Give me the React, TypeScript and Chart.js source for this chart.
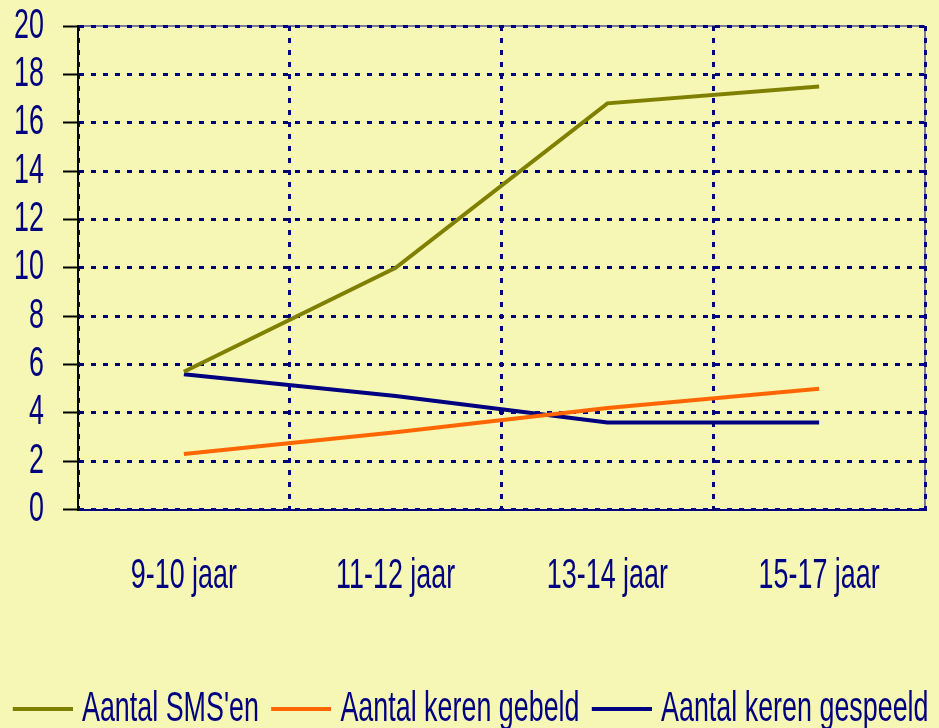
import React, { useEffect, useRef } from "react";
import { Chart, registerables } from "chart.js";

Chart.register(...registerables);

const categories = ["9-10 jaar", "11-12 jaar", "13-14 jaar", "15-17 jaar"];
const smsValues = [5.7, 10.0, 16.8, 17.5];
const gebeldValues = [2.3, 3.2, 4.2, 5.0];
const gespeeldValues = [5.6, 4.7, 3.6, 3.6];
const seriesNames = ["Aantal SMS'en", "Aantal keren gebeld", "Aantal keren gespeeld"];
const seriesColors = ["#808000", "#FF6600", "#000080"];

const BG = "#F6F7B4";
const NAVY = "#000080";
const FONT = "'Liberation Sans', Arial, sans-serif";
const FONT_SIZE = 42;
const CONDENSE = 0.64;

function legendLine(color: string) {
  const c = document.createElement("canvas");
  c.width = 74;
  c.height = 4;
  const g = c.getContext("2d")!;
  g.fillStyle = color;
  g.fillRect(14, 0, 60, 4);
  return c;
}

function condense(ctx: any) {
  if (ctx.__condensed) return;
  ctx.__condensed = true;
  const fill = ctx.fillText.bind(ctx);
  const measure = ctx.measureText.bind(ctx);
  ctx.fillText = (text: string, x: number, y: number) => {
    ctx.save();
    ctx.translate(x, y);
    ctx.scale(CONDENSE, 1);
    fill(text, 0, 0);
    ctx.restore();
  };
  ctx.measureText = (text: string) => {
    const m = measure(text);
    return {
      width: m.width * CONDENSE,
      actualBoundingBoxAscent: m.actualBoundingBoxAscent,
      actualBoundingBoxDescent: m.actualBoundingBoxDescent,
      actualBoundingBoxLeft: m.actualBoundingBoxLeft * CONDENSE,
      actualBoundingBoxRight: m.actualBoundingBoxRight * CONDENSE,
    };
  };
}

const frame = {
  id: "frame",
  afterDraw(chart: any) {
    const { ctx, chartArea } = chart;
    ctx.save();
    ctx.strokeStyle = NAVY;
    ctx.lineWidth = 1;
    ctx.beginPath();
    ctx.moveTo(chartArea.left, chartArea.top);
    ctx.lineTo(chartArea.right, chartArea.top);
    ctx.lineTo(chartArea.right, chartArea.bottom);
    ctx.stroke();
    ctx.restore();
  },
};

export default function App() {
  const ref = useRef<HTMLCanvasElement>(null);
  useEffect(() => {
    document.body.style.margin = "0";
    document.body.style.background = BG;
    const canvas = ref.current!;
    condense(canvas.getContext("2d"));
    const images = seriesColors.map(legendLine);
    const values = [smsValues, gebeldValues, gespeeldValues];
    const chart = new Chart(canvas, {
      type: "line",
      data: {
        labels: categories,
        datasets: values.map((v, i) => ({
          label: seriesNames[i],
          data: v,
          borderColor: seriesColors[i],
          backgroundColor: seriesColors[i],
          borderWidth: 4,
          pointRadius: 0,
          tension: 0,
        })),
      },
      options: {
        animation: false,
        responsive: true,
        maintainAspectRatio: false,
        layout: { padding: { top: 0, right: 0, left: 0, bottom: -12 } },
        plugins: {
          tooltip: { enabled: false },
          legend: {
            position: "bottom",
            labels: {
              color: NAVY,
              font: { family: FONT, size: FONT_SIZE },
              usePointStyle: true,
              pointStyleWidth: 50.5,
              padding: 10,
              generateLabels: (ch: any) =>
                Chart.defaults.plugins.legend.labels.generateLabels(ch).map((it: any, i: number) => ({
                  ...it,
                  pointStyle: images[i],
                })),
            },
          },
        },
        scales: {
          x: {
            offset: true,
            grid: { offset: true, color: NAVY, lineWidth: 3, drawTicks: false },
            border: { color: NAVY, width: 2, dash: [5, 7] },
            ticks: { color: NAVY, font: { family: FONT, size: FONT_SIZE }, padding: 42 },
            afterFit: (s: any) => {
              s.height += 34;
              s.paddingRight = 14;
              s.paddingLeft = 0;
            },
          },
          y: {
            min: 0,
            max: 20,
            ticks: { stepSize: 2, autoSkip: false, color: NAVY, font: { family: FONT, size: FONT_SIZE }, padding: 19 },
            grid: {
              color: NAVY,
              lineWidth: 3,
              tickLength: 15,
              tickColor: "#000000",
              tickWidth: 2,
              tickBorderDash: [],
            },
            border: { color: "#000000", width: 2, dash: [5, 7] },
            afterFit: (s: any) => {
              s.width = 78;
              s.paddingTop = 26;
              s.paddingBottom = 0;
            },
          },
        },
      },
      plugins: [frame],
    });
    return () => chart.destroy();
  }, []);
  return (
    <div style={{ width: 939, height: 728, background: BG }}>
      <canvas ref={ref} />
    </div>
  );
}
